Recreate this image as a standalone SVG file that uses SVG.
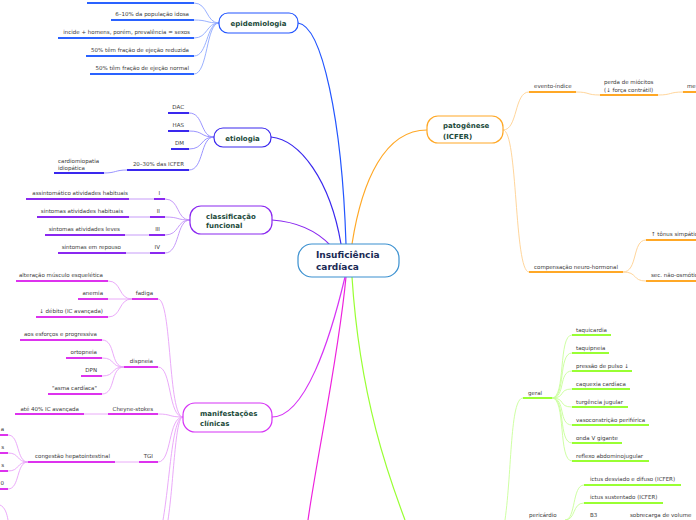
<svg xmlns="http://www.w3.org/2000/svg" width="696" height="520" viewBox="0 0 696 520">
<style>
text{font-family:"DejaVu Sans",Verdana,sans-serif}
.t{font-size:5.5px;fill:#3a3a3a}
.e{text-anchor:end}
.n{font-size:7px;font-weight:bold;fill:#1b4a3a}
.c{font-size:9px;font-weight:bold;fill:#1a2a55}
.box{fill:#fff;stroke-width:1.2}
path{fill:none}
.l{stroke-width:2}
.s{stroke-width:0.9}
.m{stroke-width:1.2}
</style>
<rect width="696" height="520" fill="#fff"/>
<g id="connectors">
<!-- main branches -->
<path class="m" stroke="#2255ff" d="M298,23 C322,26 342,120 346,244"/>
<path class="m" stroke="#3a28ee" d="M271,137 C300,140 330,180 341,244"/>
<path class="m" stroke="#8a28f0" d="M272,220 C300,222 318,232 331,246"/>
<path class="m" stroke="#ffa826" d="M352,244 C362,180 385,130 427,130"/>
<path class="m" stroke="#d633f5" d="M272,417 C305,417 330,340 345,277"/>
<path class="m" stroke="#ee22dd" d="M346,277 C338,360 318,450 308,520"/>
<path class="m" stroke="#99ff33" d="M352,277 C360,400 390,480 405,520"/>
<!-- epidemiologia -->
<g stroke="#8fa8ff" class="s">
<path d="M194,3 C208,3 206,23 219,23"/>
<path d="M194,20 C208,20 206,23 219,23"/>
<path d="M194,38 C208,38 206,23 219,23"/>
<path d="M194,56 C208,56 206,23 219,23"/>
<path d="M194,74 C208,74 206,23 219,23"/>
</g>
<g stroke="#2a62ff" class="l">
<path d="M87,3 H194"/><path d="M111,20 H194"/><path d="M58,38 H194"/><path d="M86,56 H194"/><path d="M90,74 H194"/>
</g>
<!-- etiologia -->
<g stroke="#8f88ff" class="s">
<path d="M189,113 C204,113 200,137 214,137"/>
<path d="M189,131 C204,131 200,137 214,137"/>
<path d="M189,149 C204,149 200,137 214,137"/>
<path d="M189,170 C204,170 200,137 214,137"/>
<path d="M104,173 C116,173 115,170 127,170"/>
</g>
<g stroke="#3a28ee" class="l">
<path d="M168,113 H189"/><path d="M168,131 H189"/><path d="M171,149 H189"/><path d="M127,170 H189"/><path d="M54,173 H104"/>
</g>
<!-- classificacao -->
<g stroke="#c090f8" class="s">
<path d="M165,199 C180,199 176,220 190,220"/>
<path d="M165,217 C180,217 176,220 190,220"/>
<path d="M165,235 C180,235 176,220 190,220"/>
<path d="M165,253 C180,253 176,220 190,220"/>
<path d="M129,199 H154"/><path d="M129,217 H150"/><path d="M125,235 H149"/><path d="M126,253 H150"/>
</g>
<g stroke="#8a28f0" class="l">
<path d="M154,199 H165"/><path d="M150,217 H165"/><path d="M149,235 H165"/><path d="M150,253 H165"/>
<path d="M26,199 H129"/><path d="M37,217 H129"/><path d="M45,235 H125"/><path d="M58,253 H126"/>
</g>
<!-- manifestacoes -->
<g stroke="#e8a0f8" class="s">
<path d="M158,299 C172,299 168,417 183,417"/>
<path d="M158,367 C172,367 168,417 183,417"/>
<path d="M158,414 C172,414 168,417 183,417"/>
<path d="M158,462 C172,462 168,417 183,417"/>
<path d="M183,417 C172,417 170,480 163,520"/>
<path d="M183,417 C175,417 174,480 168,520"/>
<path d="M108,281 C122,281 118,299 132,299"/>
<path d="M108,299 H132"/>
<path d="M108,317 C122,317 118,299 132,299"/>
<path d="M102,340 C116,340 110,367 124,367"/>
<path d="M102,358 C116,358 110,367 124,367"/>
<path d="M102,376 C116,376 110,367 124,367"/>
<path d="M102,394 C116,394 110,367 124,367"/>
<path d="M84,414 H108"/>
<path d="M115,462 H139"/>
<path d="M8,435 C20,435 16,462 28,462"/>
<path d="M8,453 C20,453 16,462 28,462"/>
<path d="M8,471 C20,471 16,462 28,462"/>
<path d="M8,489 C20,489 16,462 28,462"/>
<path d="M0,505 C5,507 7,514 8,520"/>
</g>
<g stroke="#dd33ee" class="l">
<path d="M132,299 H158"/><path d="M124,367 H158"/><path d="M108,414 H158"/><path d="M139,462 H158"/>
<path d="M16,281 H108"/><path d="M78,299 H108"/><path d="M36,317 H108"/>
<path d="M20,340 H102"/><path d="M66,358 H102"/><path d="M81,376 H102"/><path d="M48,394 H102"/>
<path d="M15,414 H84"/><path d="M28,462 H115"/>
<path d="M0,435 H8"/><path d="M0,453 H8"/><path d="M0,471 H8"/><path d="M0,489 H8"/>
</g>
<!-- patogenese -->
<g stroke="#ffd090" class="s">
<path d="M503,130 C518,130 514,92 529,92"/>
<path d="M503,130 C518,130 514,272 529,272"/>
<path d="M576,92 C590,92 586,95 600,95"/>
<path d="M658,95 C672,95 669,92 683,92"/>
<path d="M623,272 C638,272 632,240 646,240"/>
<path d="M623,272 C638,272 632,281 646,281"/>
</g>
<g stroke="#ffa826" class="l">
<path d="M529,92 H576"/><path d="M600,95 H658"/><path d="M683,92 H696"/>
<path d="M529,272 H623"/><path d="M646,240 H696"/><path d="M646,281 H696"/>
</g>
<!-- exame fisico (green) -->
<g stroke="#c8ff99" class="s">
<path d="M505,520 C512,470 510,398 523,398"/>
<path d="M552,398 C566,398 558,335 572,335"/>
<path d="M552,398 C566,398 558,353 572,353"/>
<path d="M552,398 C566,398 558,371 572,371"/>
<path d="M552,398 C566,398 558,389 572,389"/>
<path d="M552,398 C566,398 558,407 572,407"/>
<path d="M552,398 C566,398 558,425 572,425"/>
<path d="M552,398 C566,398 558,443 572,443"/>
<path d="M552,398 C566,398 558,461 572,461"/>
<path d="M565,520 C576,520 572,485 584,485"/>
<path d="M565,520 C576,520 572,503 584,503"/>
</g>
<g stroke="#99ff33" class="l">
<path d="M523,398 H552"/>
<path d="M572,335 H611"/><path d="M572,353 H609"/><path d="M572,371 H632"/><path d="M572,389 H630"/>
<path d="M572,407 H628"/><path d="M572,425 H649"/><path d="M572,443 H622"/><path d="M572,461 H649"/>
<path d="M584,485 H681"/><path d="M584,503 H663"/>
</g>
</g>
<g id="node-center">
<rect class="box" x="298" y="244" width="101" height="33" rx="14" stroke="#3a90d0"/>
<text class="c" x="316" y="258">Insuficiência</text>
<text class="c" x="316" y="270">cardíaca</text>
</g>
<g id="node-epidemiologia">
<rect class="box" x="219" y="13" width="79" height="20" rx="9" stroke="#2255ff"/>
<text class="n" x="258.5" y="26" text-anchor="middle">epidemiologia</text>
<text class="t e" x="189" y="16">6–10% da população idosa</text>
<text class="t e" x="190" y="34">incide + homens, porém, prevalência = sexos</text>
<text class="t e" x="189" y="52">50% têm fração de ejeção reduzida</text>
<text class="t e" x="189" y="70">50% têm fração de ejeção normal</text>
</g>
<g id="node-etiologia">
<rect class="box" x="214" y="128" width="57" height="19" rx="9" stroke="#3a28ee"/>
<text class="n" x="242.5" y="140.5" text-anchor="middle">etiologia</text>
<text class="t e" x="184" y="109">DAC</text>
<text class="t e" x="184" y="127">HAS</text>
<text class="t e" x="184" y="145">DM</text>
<text class="t e" x="184" y="166">20–30% das ICFER</text>
<text class="t" x="58" y="163">cardiomiopatia</text>
<text class="t" x="58" y="170">idiopática</text>
</g>
<g id="node-classificacao">
<rect class="box" x="190" y="206" width="82" height="28" rx="11" stroke="#8a28f0"/>
<text class="n" x="206" y="218.5">classificação</text>
<text class="n" x="206" y="228">funcional</text>
<text class="t e" x="160" y="195">I</text>
<text class="t e" x="160" y="213">II</text>
<text class="t e" x="160" y="231">III</text>
<text class="t e" x="160" y="249">IV</text>
<text class="t e" x="128" y="195">assintomático atividades habituais</text>
<text class="t e" x="123" y="213">sintomas atividades habituais</text>
<text class="t e" x="120" y="231">sintomas atividades leves</text>
<text class="t e" x="121" y="249">sintomas em repouso</text>
</g>
<g id="node-manifestacoes">
<rect class="box" x="183" y="403" width="89" height="29" rx="12" stroke="#d633f5"/>
<text class="n" x="200" y="415.5">manifestações</text>
<text class="n" x="200" y="425.5">clínicas</text>
<text class="t e" x="153" y="295">fadiga</text>
<text class="t e" x="103" y="277">alteração músculo esquelética</text>
<text class="t e" x="103" y="295">anemia</text>
<text class="t e" x="103" y="313">↓ débito (IC avançada)</text>
<text class="t e" x="153" y="363">dispneia</text>
<text class="t e" x="97" y="336">aos esforços e progressiva</text>
<text class="t e" x="97" y="354">ortopneia</text>
<text class="t e" x="97" y="372">DPN</text>
<text class="t e" x="97" y="390">"asma cardíaca"</text>
<text class="t e" x="153" y="411">Cheyne-stokes</text>
<text class="t e" x="79" y="411">até 40% IC avançada</text>
<text class="t e" x="153" y="458">TGI</text>
<text class="t e" x="110" y="458">congestão hepatointestinal</text>
<text class="t e" x="4" y="431">a</text>
<text class="t e" x="4" y="449">s</text>
<text class="t e" x="4" y="467">s</text>
<text class="t e" x="4" y="485">0</text>
</g>
<g id="node-patogenese">
<rect class="box" x="427" y="116" width="76" height="27" rx="11" stroke="#ffa826"/>
<text class="n" x="443" y="128">patogênese</text>
<text class="n" x="443" y="138.5">(ICFER)</text>
<text class="t" x="534" y="88">evento-índice</text>
<text class="t" x="604" y="84">perda de miócitos</text>
<text class="t" x="604" y="92">(↓ força contrátil)</text>
<text class="t" x="687" y="88">me</text>
<text class="t" x="534" y="269">compensação neuro-hormonal</text>
<text class="t" x="651" y="236">↑ tônus simpático</text>
<text class="t" x="651" y="277">sec. não-osmótica</text>
</g>
<g id="node-exame">
<text class="t" x="528" y="395">geral</text>
<text class="t" x="576" y="332">taquicardia</text>
<text class="t" x="576" y="350">taquipneia</text>
<text class="t" x="576" y="368">pressão de pulso ↓</text>
<text class="t" x="576" y="386">caquexia cardíaca</text>
<text class="t" x="576" y="404">turgência jugular</text>
<text class="t" x="576" y="422">vasoconstrição periférica</text>
<text class="t" x="576" y="440">onda V gigante</text>
<text class="t" x="576" y="458">reflexo abdominojugular</text>
<text class="t" x="529" y="517">pericárdio</text>
<text class="t" x="590" y="481">ictus desviado e difuso (ICFER)</text>
<text class="t" x="590" y="499">ictus sustentado (ICFER)</text>
<text class="t" x="590" y="517">B3</text>
<text class="t" x="630" y="517">sobrecarga de volume</text>
</g>
</svg>
